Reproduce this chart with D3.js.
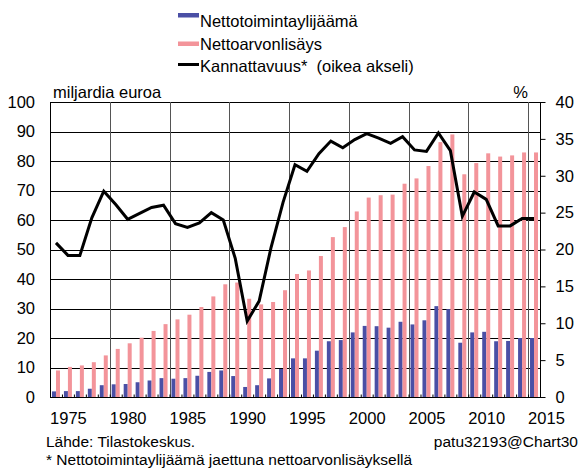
<!DOCTYPE html>
<html>
<head>
<meta charset="utf-8">
<script src="https://cdn.jsdelivr.net/npm/d3@7/dist/d3.min.js"></script>
<style>
  html, body { margin: 0; padding: 0; background: #fff; }
  svg { display: block; font-family: "Liberation Sans", Arial, sans-serif; }
  text { white-space: pre; }
</style>
</head>
<body>
<svg id="chart" width="579" height="469"></svg>
<script>
// ---- data ----
const years = d3.range(1974, 2015);
const surplus = [1.9, 2.0, 2.0, 2.8, 4.0, 4.3, 4.4, 5.0, 5.6, 6.4,
                 6.2, 6.4, 7.2, 8.5, 9.0, 7.1, 3.4, 4.0, 6.3, 9.5,
                 13.1, 13.1, 15.7, 18.9, 19.3, 21.9, 24.1, 24.0, 23.5, 25.5,
                 24.6, 26.0, 30.8, 29.8, 18.4, 21.9, 22.1, 18.9, 19.0, 20.0, 20.0];
const valueAdded = [9.0, 10.2, 10.7, 11.8, 14.1, 16.3, 18.2, 20.1, 22.4, 24.7,
                    26.3, 27.9, 30.5, 34.1, 38.2, 38.8, 33.3, 31.4, 32.2, 36.2,
                    41.7, 42.9, 47.8, 54.2, 57.6, 62.9, 67.6, 68.4, 68.6, 72.3,
                    74.1, 78.3, 86.4, 89.0, 75.5, 79.3, 82.6, 81.5, 81.9, 82.9, 82.9];
const profitability = [20.9, 19.2, 19.2, 24.3, 27.9, 26.1, 24.1, 24.9, 25.7, 26.0,
                       23.5, 23.0, 23.6, 25.0, 24.0, 18.8, 10.3, 13.0, 20.3, 26.4,
                       31.5, 30.6, 33.0, 34.7, 33.8, 34.9, 35.7, 35.1, 34.4, 35.3,
                       33.5, 33.3, 35.8, 33.4, 24.5, 27.8, 26.8, 23.2, 23.2, 24.2, 24.2];
const yearLabels = [1975, 1980, 1985, 1990, 1995, 2000, 2005, 2010, 2015];
const leftTicks = d3.range(0, 101, 10);
const rightTicks = d3.range(0, 41, 5);
const legendLabels = ["Nettotoimintaylijäämä", "Nettoarvonlisäys", "Kannattavuus*  (oikea akseli)"];

// ---- layout ----
const L = 50, R = 540, T = 102, B = 397;
const FS = 16.5;
const cBlue = "#4a4fa5", cPink = "#f3949a";
const svg = d3.select("#chart");

const x = d3.scaleLinear().domain([1973.5, 2014.5]).range([L, R]);
const y = d3.scaleLinear().domain([0, 100]).range([B, T]);
const y2 = d3.scaleLinear().domain([0, 40]).range([B, T]);

// horizontal gridlines
svg.append("g").selectAll("line").data(leftTicks.filter(d => d > 0)).join("line")
  .attr("x1", L).attr("x2", R).attr("y1", d => Math.round(y(d)) + 0.5).attr("y2", d => Math.round(y(d)) + 0.5)
  .attr("stroke", "#000").attr("stroke-width", 1);

// vertical gridlines every 5 categories
const vBounds = d3.range(1978.5, 2014, 5);
svg.append("g").selectAll("line").data(vBounds).join("line")
  .attr("x1", d => Math.round(x(d)) + 0.5).attr("x2", d => Math.round(x(d)) + 0.5)
  .attr("y1", T).attr("y2", B)
  .attr("stroke", "#555").attr("stroke-width", 1);

// bars
svg.append("g").selectAll("rect").data(years).join("rect")
  .attr("x", (d) => x(d) - 4).attr("width", 4)
  .attr("y", (d, i) => y(surplus[i])).attr("height", (d, i) => B - y(surplus[i]))
  .attr("fill", cBlue);
svg.append("g").selectAll("rect").data(years).join("rect")
  .attr("x", (d) => x(d)).attr("width", 4)
  .attr("y", (d, i) => y(valueAdded[i])).attr("height", (d, i) => B - y(valueAdded[i]))
  .attr("fill", cPink);

// frame: left, right axes lines
svg.append("line").attr("x1", L + 0.5).attr("x2", L + 0.5).attr("y1", T).attr("y2", B).attr("stroke", "#000");
svg.append("line").attr("x1", R + 0.5).attr("x2", R + 0.5).attr("y1", T).attr("y2", B).attr("stroke", "#000");

// bottom axis (category boundaries, inside ticks)
const bottom = svg.append("g").attr("transform", `translate(0,${B + 0.5})`)
  .call(d3.axisBottom(x).tickValues(d3.range(1973.5, 2015, 1)).tickSize(-3).tickFormat(""));
bottom.select(".domain").attr("d", `M${L},0H${R + 1}`).attr("stroke", "#000");
bottom.selectAll(".tick line").attr("stroke", "#000");

// year labels
const labs = svg.append("g").attr("transform", `translate(0,${B})`)
  .call(d3.axisBottom(x).tickValues(yearLabels).tickSize(0).tickPadding(10).tickFormat(d3.format("d")));
labs.select(".domain").remove();
labs.selectAll("text").attr("font-size", FS).attr("fill", "#000").attr("font-family", "Liberation Sans, Arial, sans-serif")
  .attr("dy", 0).attr("y", 27);

// left axis labels
const lax = svg.append("g").attr("transform", `translate(${L},0)`)
  .call(d3.axisLeft(y).tickValues(leftTicks).tickSize(0).tickPadding(15));
lax.select(".domain").remove();
lax.selectAll("text").attr("font-size", FS).attr("fill", "#000").attr("font-family", "Liberation Sans, Arial, sans-serif");

// right axis with outside ticks
const rax = svg.append("g").attr("transform", `translate(${R + 0.5},0)`)
  .call(d3.axisRight(y2).tickValues(rightTicks).tickSize(5).tickPadding(10));
rax.select(".domain").remove();
rax.selectAll(".tick line").attr("stroke", "#000");
rax.selectAll("text").attr("font-size", FS).attr("fill", "#000").attr("font-family", "Liberation Sans, Arial, sans-serif");

// line
const line = d3.line().x((d, i) => x(years[i])).y(d => y2(d));
svg.append("path").datum(profitability).attr("d", line)
  .attr("fill", "none").attr("stroke", "#000").attr("stroke-width", 3).attr("stroke-linejoin", "miter");

// unit labels
svg.append("text").attr("x", 53).attr("y", 98).attr("font-size", FS).text("miljardia euroa");
svg.append("text").attr("x", 528).attr("y", 98).attr("font-size", FS).attr("text-anchor", "end").text("%");

// legend
const lg = svg.append("g");
lg.append("rect").attr("x", 178).attr("y", 13).attr("width", 21).attr("height", 4.5).attr("fill", cBlue);
lg.append("rect").attr("x", 178).attr("y", 41.5).attr("width", 21).attr("height", 4.5).attr("fill", cPink);
lg.append("line").attr("x1", 178).attr("x2", 199).attr("y1", 64.5).attr("y2", 64.5).attr("stroke", "#000").attr("stroke-width", 3);
const lgY = [26.8, 49.5, 72];
lg.selectAll("text").data(legendLabels).join("text")
  .attr("x", 200).attr("y", (d, i) => lgY[i]).attr("font-size", FS).text(d => d);

// footer
svg.append("text").attr("x", 46).attr("y", 447).attr("font-size", 15.5).text("Lähde: Tilastokeskus.");
svg.append("text").attr("x", 578).attr("y", 447).attr("font-size", 15.5).attr("text-anchor", "end").text("patu32193@Chart30");
svg.append("text").attr("x", 46).attr("y", 465).attr("font-size", 15.5).text("* Nettotoimintaylijäämä jaettuna nettoarvonlisäyksellä");
</script>
</body>
</html>
